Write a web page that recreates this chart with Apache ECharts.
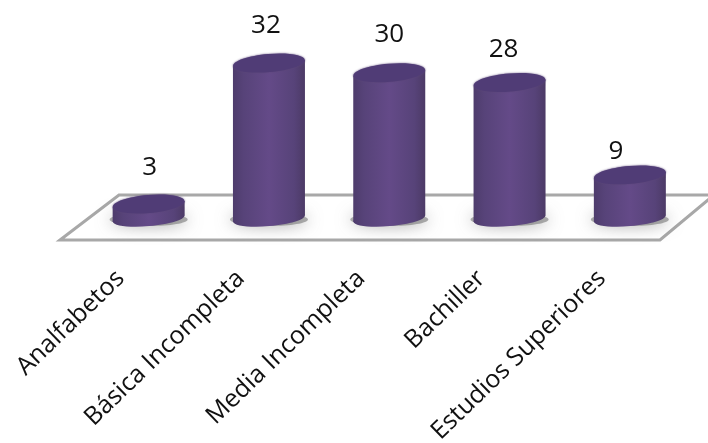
<!DOCTYPE html>
<html><head><meta charset="utf-8">
<style>html,body{margin:0;padding:0;background:#fff}#c{width:708px;height:443px}</style>
<script src="https://cdn.jsdelivr.net/npm/echarts@6/dist/echarts.min.js"></script>
</head><body><div id="c"></div>
<script>
const categories = ["Analfabetos","Básica Incompleta","Media Incompleta","Bachiller","Estudios Superiores"];
const values = [3,32,30,28,9];
const labelShiftX = [1,-3,0,-6,-14];
const labelShiftY = [-2,-3,-4,1,11];

const chart = echarts.init(document.getElementById('c'), null, {renderer:'canvas'});
const sideFill = {type:'linear',x:0,y:0,x2:1,y2:0,colorStops:[
  {offset:0,color:'#4e3c6c'},{offset:0.15,color:'#574379'},{offset:0.5,color:'#644a88'},{offset:0.85,color:'#574379'},{offset:1,color:'#4c3a66'}]};
const TILT = 0.085, RY = 9, RYB = 7.5, HALF = 36;

function renderCylinder(params, api){
  const i = api.value(0);
  const base = api.coord([i,0]);
  const top = api.coord([i,api.value(1)]);
  const cx = base[0], by = base[1], ty = top[1];
  const dy = HALF*TILT;
  const ell = (cy,fill,rx,ry,z2,blur)=>({type:'ellipse',z2:z2,
    shape:{cx:cx,cy:cy,rx:rx,ry:ry},
    rotation:TILT,originX:cx,originY:cy,
    style:{fill:fill,shadowBlur:blur||0,shadowColor:'#5a4578'}});
  return {type:'group',children:[
    {type:'ellipse',z2:1,shape:{cx:cx,cy:by+1,rx:HALF+3,ry:RYB-1},
      style:{fill:'rgba(110,110,110,0.55)',shadowBlur:16,shadowColor:'rgba(100,100,100,1)'}},
    ell(by,sideFill,HALF,RYB,2),
    {type:'polygon',z2:3,shape:{points:[[cx-HALF,ty+dy],[cx+HALF,ty-dy],[cx+HALF,by-dy],[cx-HALF,by+dy]]},style:{fill:sideFill}},
    ell(ty,'#503c76',HALF,RY,4,2),
    {type:'text',z2:5,x:cx+labelShiftX[i],y:ty-RY-12+labelShiftY[i],
      style:{text:String(api.value(1)),font:'26px "Open Sans"',fill:'#111',align:'center',verticalAlign:'bottom'}}
  ]};
}

chart.setOption({
  animation:false,
  backgroundColor:'#fff',
  grid:{left:88.5,width:601.5,bottom:224.4,top:24.2,containLabel:false,outerBoundsMode:'none'},
  xAxis:{type:'category',data:categories,
    axisLine:{show:false},axisTick:{show:false},splitLine:{show:false},
    axisLabel:{rotate:44,margin:29,interval:0,fontFamily:'Open Sans',fontSize:25,color:'#111',padding:[0,39,0,0]}},
  yAxis:{type:'value',min:0,max:40,interval:10,show:false},
  graphic:[{type:'polygon',z:0,silent:true,
    shape:{points:[[60,240],[119,195],[720,195],[720,190],[708,200],[660,240]]},
    style:{fill:'#fff',stroke:'#a8a8a8',lineWidth:3}}],
  series:[{type:'custom',z:5,clip:false,renderItem:renderCylinder,
    encode:{x:0,y:1},
    data:values.map((v,i)=>[i,v])}]
});
</script></body></html>
